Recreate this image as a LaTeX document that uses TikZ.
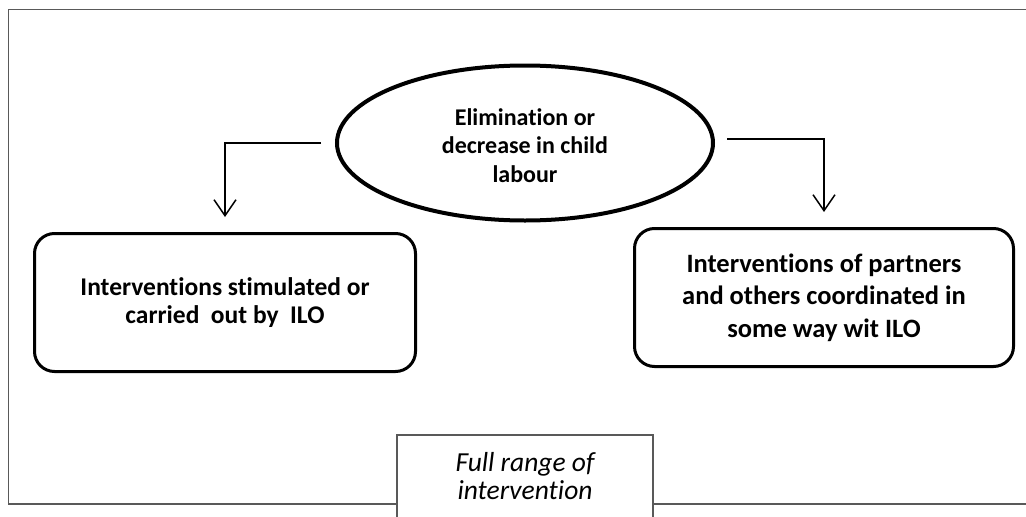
\documentclass[tikz,border=0pt]{standalone}
\usepackage{fontspec}
\setmainfont{Carlito}[Ligatures=NoCommon]
\usetikzlibrary{arrows.meta,shapes.geometric}
\tikzset{
  framel/.style={draw=black!65, line width=1.2pt},
  goal/.style={ellipse, draw=black, line width=4pt, minimum width=376pt, minimum height=155pt, inner sep=0pt, align=center, font=\fontsize{24pt}{28.5pt}\selectfont\bfseries},
  leftbox/.style={rectangle, rounded corners=20pt, draw=black, line width=3pt, minimum width=381pt, minimum height=138pt, inner sep=0pt, align=center, font=\fontsize{25.5pt}{28.5pt}\selectfont\bfseries},
  rightbox/.style={rectangle, rounded corners=20pt, draw=black, line width=3pt, minimum width=379pt, minimum height=138pt, inner sep=0pt, align=center, font=\fontsize{26.5pt}{32.5pt}\selectfont\bfseries},
  rngtext/.style={inner sep=0pt, align=center, font=\fontsize{27.5pt}{28pt}\selectfont\itshape},
  arr/.style={line width=1.5pt, -{Straight Barb[length=16pt,width=22pt]}}
}
\begin{document}
\begin{tikzpicture}[x=1pt,y=-1pt]
\useasboundingbox (0,0) rectangle (1026,517);
\clip (0,0) rectangle (1026,517);
% outer frame (open to the right)
\draw[framel, fill=white] (8.5,9.5) rectangle (1040,504);
% nodes
\node[goal] (goal) at (525,143) {\raisebox{-5pt}[\height][\depth]{\begin{tabular}{@{}c@{}}Elimination or\\decrease in child\\labour\end{tabular}}};
\node[leftbox] (ilo) at (225,302.5) {Interventions stimulated or\\carried\ \ out by\ \ ILO};
\node[rightbox] (part) at (824,297.5) {Interventions of partners\\and others coordinated in\\some way wit ILO};
% connectors
\coordinate (ls) at ([xshift=-14pt]goal.west);
\coordinate (le) at ([yshift=15pt]ilo.north);
\coordinate (rs) at ([xshift=12pt,yshift=4pt]goal.east);
\coordinate (re) at ([yshift=15pt]part.north);
\draw[arr] (ls) -| (le);
\draw[arr] (rs) -| (re);
% bottom label box
\draw[framel, fill=white] (397,435) rectangle (653,540);
\node[rngtext] (rng) at (525,476) {Full range of\\intervention};
\end{tikzpicture}
\end{document}
